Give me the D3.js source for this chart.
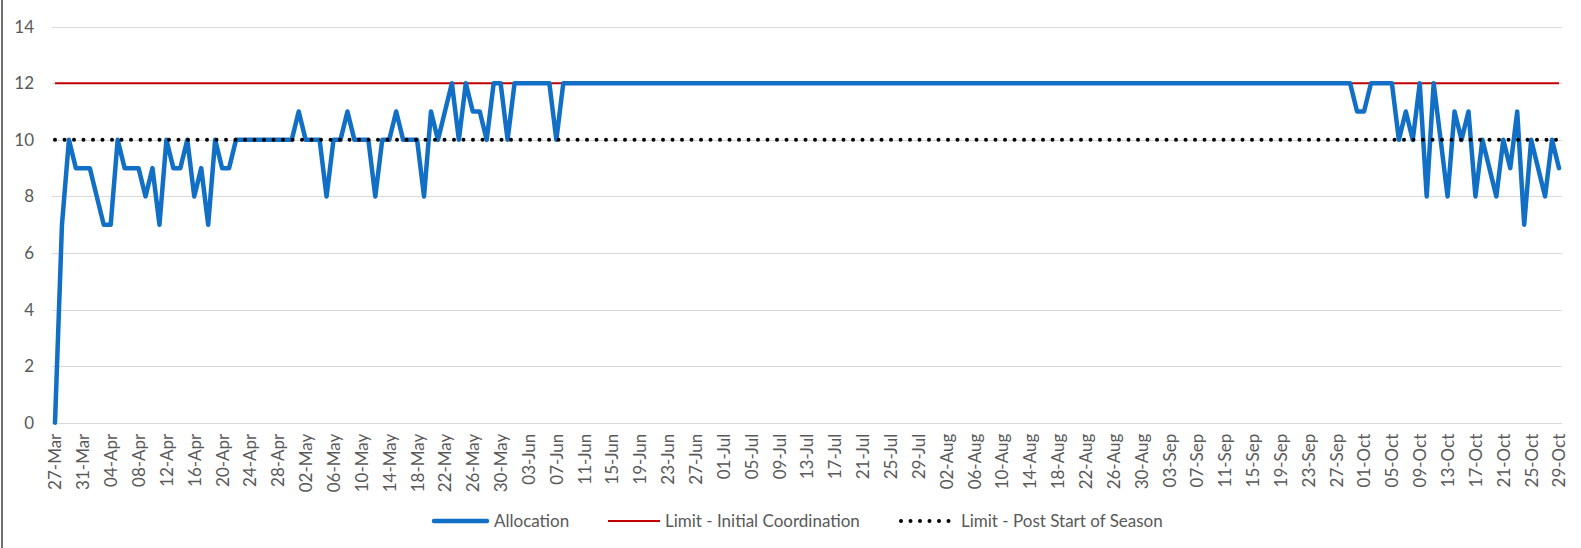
<!DOCTYPE html>
<html>
<head>
<meta charset="utf-8">
<script src="https://cdn.jsdelivr.net/npm/d3@7"></script>
<style>
  body { margin: 0; background: #fff; }
  text { font-family: Lato, "Noto Sans", sans-serif; fill: #595959; }
</style>
</head>
<body>
<script>
"use strict";

// daily categories 27-Mar .. 29-Oct
const days = d3.timeDay.range(new Date(2022, 2, 27), new Date(2022, 9, 30));
const categories = days.map(d3.timeFormat("%d-%b"));
const tickLabels = categories.filter((d, i) => i % 4 === 0);

const allocation = [
  0, 7, 10, 9, 9, 9, 8, 7, 7, 10,
  9, 9, 9, 8, 9, 7, 10, 9, 9, 10,
  8, 9, 7, 10, 9, 9, 10, 10, 10, 10,
  10, 10, 10, 10, 10, 11, 10, 10, 10, 8,
  10, 10, 11, 10, 10, 10, 8, 10, 10, 11,
  10, 10, 10, 8, 11, 10, 11, 12, 10, 12,
  11, 11, 10, 12, 12, 10, 12, 12, 12, 12,
  12, 12, 10, 12, 12, 12, 12, 12, 12, 12,
  12, 12, 12, 12, 12, 12, 12, 12, 12, 12,
  12, 12, 12, 12, 12, 12, 12, 12, 12, 12,
  12, 12, 12, 12, 12, 12, 12, 12, 12, 12,
  12, 12, 12, 12, 12, 12, 12, 12, 12, 12,
  12, 12, 12, 12, 12, 12, 12, 12, 12, 12,
  12, 12, 12, 12, 12, 12, 12, 12, 12, 12,
  12, 12, 12, 12, 12, 12, 12, 12, 12, 12,
  12, 12, 12, 12, 12, 12, 12, 12, 12, 12,
  12, 12, 12, 12, 12, 12, 12, 12, 12, 12,
  12, 12, 12, 12, 12, 12, 12, 12, 12, 12,
  12, 12, 12, 12, 12, 12, 12, 11, 11, 12,
  12, 12, 12, 10, 11, 10, 12, 8, 12, 10,
  8, 11, 10, 11, 8, 10, 9, 8, 10, 9,
  11, 7, 10, 9, 8, 10, 9
];

const limitInitial = 12;
const limitPost = 10;
const yTicks = [0, 2, 4, 6, 8, 10, 12, 14];

const seriesNames = ["Allocation", "Limit - Initial Coordination", "Limit - Post Start of Season"];

const width = 1581, height = 548;
const fontSize = 17;

const svg = d3.select("body").append("svg")
    .attr("width", width)
    .attr("height", height);

const x = d3.scalePoint()
    .domain(categories)
    .range([55, 1559]);

const y = d3.scaleLinear()
    .domain([0, 14])
    .range([422.7, 26.7]);

// left edge of the chart frame
svg.append("line")
    .attr("x1", 2).attr("x2", 2)
    .attr("y1", 0).attr("y2", height)
    .attr("stroke", "#404040")
    .attr("stroke-width", 1.5);

// gridlines
svg.append("g")
    .selectAll("line")
    .data(yTicks)
    .join("line")
    .attr("x1", 52).attr("x2", 1562)
    .attr("y1", d => Math.round(y(d)) + 0.5)
    .attr("y2", d => Math.round(y(d)) + 0.5)
    .attr("stroke", "#d9d9d9")
    .attr("stroke-width", 1.2);

// y labels
const yAxis = svg.append("g")
    .attr("transform", "translate(40,0)")
    .call(d3.axisLeft(y).tickValues(yTicks).tickSize(0).tickPadding(6));
yAxis.select(".domain").remove();
yAxis.selectAll("text")
    .attr("font-size", fontSize)
    .attr("fill", "#595959")
    .style("font-family", "Lato, 'Noto Sans', sans-serif");

// x labels
const xAxis = svg.append("g")
    .attr("transform", "translate(0," + y(0) + ")")
    .call(d3.axisBottom(x).tickValues(tickLabels).tickSize(0));
xAxis.select(".domain").remove();
xAxis.selectAll("text")
    .attr("font-size", fontSize)
    .attr("fill", "#595959")
    .style("font-family", "Lato, 'Noto Sans', sans-serif")
    .attr("text-anchor", "end")
    .attr("transform", "rotate(-90)")
    .attr("x", -11)
    .attr("y", 0)
    .attr("dy", "0.35em");

// limit lines
svg.append("line")
    .attr("x1", x(categories[0])).attr("x2", x(categories[categories.length - 1]))
    .attr("y1", y(limitInitial)).attr("y2", y(limitInitial))
    .attr("stroke", "#c00000")
    .attr("stroke-width", 2);

// allocation
const line = d3.line()
    .x((d, i) => x(categories[i]))
    .y(d => y(d));

svg.append("path")
    .datum(allocation)
    .attr("d", line)
    .attr("fill", "none")
    .attr("stroke", "#1170c6")
    .attr("stroke-width", 4.5)
    .attr("stroke-linejoin", "round")
    .attr("stroke-linecap", "round");

svg.append("line")
    .attr("x1", x(categories[0])).attr("x2", x(categories[categories.length - 1]) + 1)
    .attr("y1", y(limitPost)).attr("y2", y(limitPost))
    .attr("stroke", "#000")
    .attr("stroke-width", 4)
    .attr("stroke-linecap", "round")
    .attr("stroke-dasharray", "0 9.5");

// legend
const legendY = 521;
const legend = svg.append("g");

legend.append("line")
    .attr("x1", 434).attr("x2", 487)
    .attr("y1", legendY).attr("y2", legendY)
    .attr("stroke", "#1170c6")
    .attr("stroke-width", 4.5)
    .attr("stroke-linecap", "round");
legend.append("line")
    .attr("x1", 608).attr("x2", 660)
    .attr("y1", legendY).attr("y2", legendY)
    .attr("stroke", "#c00000")
    .attr("stroke-width", 2);
legend.append("line")
    .attr("x1", 901).attr("x2", 950)
    .attr("y1", legendY).attr("y2", legendY)
    .attr("stroke", "#000")
    .attr("stroke-width", 4)
    .attr("stroke-linecap", "round")
    .attr("stroke-dasharray", "0 9.5");

legend.selectAll("text")
    .data(seriesNames)
    .join("text")
    .attr("x", (d, i) => [494, 665, 961][i])
    .attr("y", legendY)
    .attr("dy", "0.35em")
    .attr("font-size", fontSize)
    .text(d => d);
</script>
</body>
</html>
